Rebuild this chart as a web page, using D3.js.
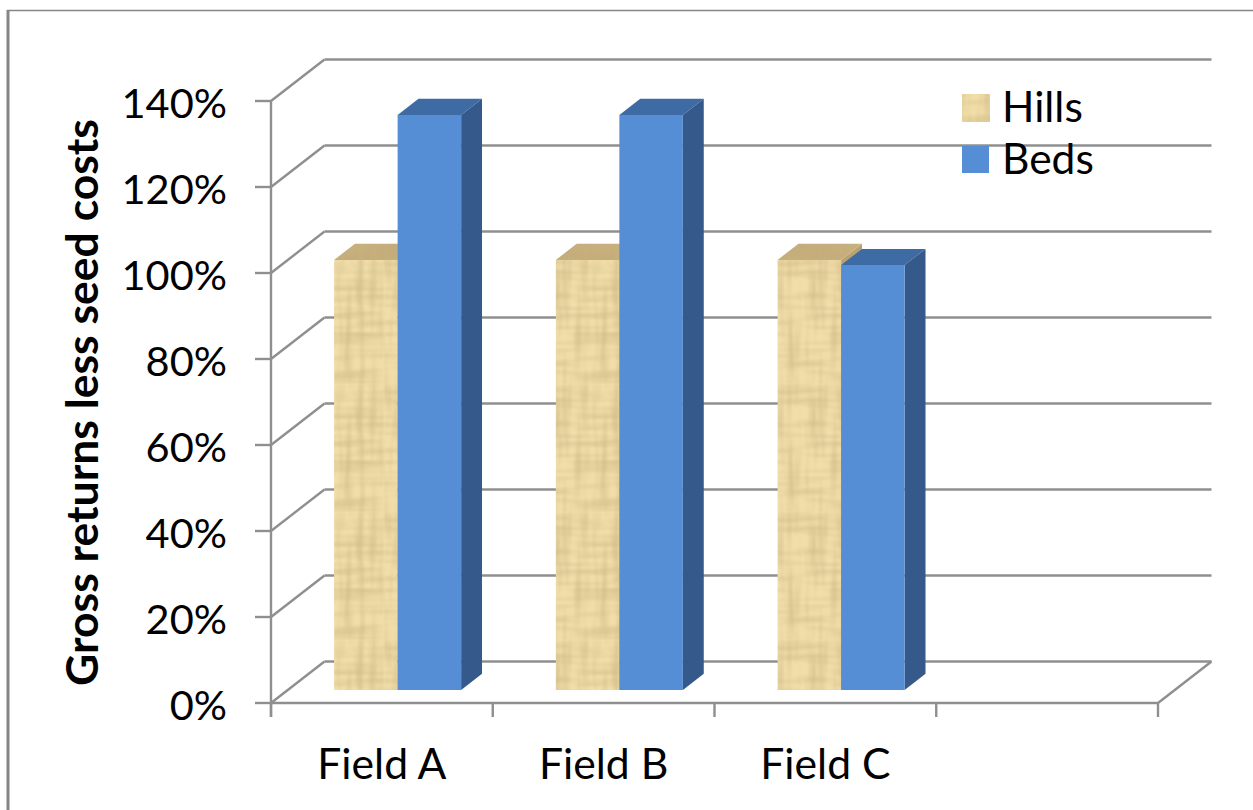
<!DOCTYPE html>
<html>
<head>
<meta charset="utf-8">
<script src="https://cdn.jsdelivr.net/npm/d3@7"></script>
<style>
html, body { margin: 0; padding: 0; background: #fff; }
svg { display: block; }
text { font-family: Lato, "Open Sans", sans-serif; fill: #000; }
</style>
</head>
<body>
<svg id="chart" width="1253" height="810"></svg>
<script>
// Gross returns relative to hills, by field
const categories = ["Field A", "Field B", "Field C", ""];
const seriesNames = ["Hills", "Beds"];
const hills = [1.00, 1.00, 1.00, null];
const beds = [1.337, 1.337, 0.988, null];
const yTicks = [0, 0.2, 0.4, 0.6, 0.8, 1.0, 1.2, 1.4];

const svg = d3.select("#chart");
const width = 1253, height = 810;

// Front plane of the 3D box and the shift from front to back wall
const x = d3.scaleBand().domain(categories).range([271, 1158]);
const y = d3.scaleLinear().domain([0, 1.4]).range([703, 101]);
const depthX = d3.scaleLinear().domain([0, 1]).range([0, 53.5]);
const depthY = d3.scaleLinear().domain([0, 1]).range([0, -41.5]);
const fmt = d3.format(".0%");

// Layout fractions of the bars inside each category band
const series = d3.scaleBand().domain(seriesNames)
  .range([0.2085, 0.7815]);
const barFront = 0.315, barBack = 0.705;

const colors = {
  Hills: { front: "url(#parchment)", top: "url(#parchmentTop)", side: "#b9a26e" },
  Beds: { front: "#558ed5", top: "#3f6ba4", side: "#34598a" }
};
const gridColor = "#8f8f8f";

// Woven parchment fill: one streak layer along each thread direction
const defs = svg.append("defs");
function weave(id, base, strength) {
  const size = 128;
  const p = defs.append("pattern").attr("id", id)
    .attr("patternUnits", "userSpaceOnUse")
    .attr("width", size).attr("height", size);
  p.append("rect").attr("width", size).attr("height", size).attr("fill", base);
  [["0.16 0.018", 7], ["0.018 0.16", 23]].forEach(([freq, seed], i) => {
    const fid = `${id}Thread${i}`;
    const f = defs.append("filter").attr("id", fid)
      .attr("x", 0).attr("y", 0).attr("width", 1).attr("height", 1);
    f.append("feTurbulence").attr("type", "fractalNoise")
      .attr("baseFrequency", freq).attr("numOctaves", 2)
      .attr("seed", seed).attr("stitchTiles", "stitch");
    f.append("feColorMatrix").attr("type", "matrix")
      .attr("values", `0 0 0 0 0.6  0 0 0 0 0.46  0 0 0 0 0.22  ${strength} 0 0 0 ${-strength * 0.42}`);
    f.append("feGaussianBlur").attr("stdDeviation", 0.8);
    p.append("rect").attr("width", size).attr("height", size)
      .attr("filter", `url(#${fid})`);
  });
}
weave("parchment", "#f1dea9", 1.3);
weave("parchmentTop", "#c4ad7a", 1.1);

const line = (x1, y1, x2, y2, w = 2.4, c = gridColor) =>
  svg.append("line").attr("x1", x1).attr("y1", y1).attr("x2", x2).attr("y2", y2)
    .attr("stroke", c).attr("stroke-width", w);

// Outer frame, open at the right and bottom edges
line(8, 10, 8, height, 3, "#868686");
line(7, 10.5, width, 10.5, 1.6, "#868686");

// Wall gridlines, floor and value ticks
const backX = x.range()[1] + depthX(1);
yTicks.forEach(t => {
  const py = y(t);
  const by = py + depthY(1);
  const lx = x.range()[0] + depthX(1);
  line(x.range()[0], py, lx, by);
  line(lx, by, backX, by);
  line(255, py, x.range()[0], py);
  svg.append("text").attr("x", 227).attr("y", py).attr("dy", "0.4em")
    .attr("text-anchor", "end").attr("font-size", 41.5).text(fmt(t));
});
line(x.range()[0], y(1.4), x.range()[0], 717);
line(x.range()[0], y(0), x.range()[1], y(0));
line(x.range()[1], y(0), backX, y(0) + depthY(1));

// Category ticks and labels
categories.forEach(c => line(x(c), y(0), x(c), 717));
line(x.range()[1], y(0), x.range()[1], 717);
categories.filter(Boolean).forEach(c => {
  svg.append("text").attr("x", x(c) + x.bandwidth() / 2).attr("y", 779)
    .attr("text-anchor", "middle").attr("font-size", 42.7).text(c);
});

// Point on a bar: band-relative x, value, depth fraction
const project = (c, frac, v, d) => [
  x(c) + frac * x.bandwidth() + depthX(d),
  y(v) + depthY(d)
];
const poly = (pts, fill) => svg.append("polygon")
  .attr("points", pts.map(p => p.join(",")).join(" "))
  .attr("fill", fill);

function barGeometry(c, name, v) {
  const a = series(name), b = a + series.bandwidth();
  return {
    front: [project(c, a, 0, barFront), project(c, b, 0, barFront), project(c, b, v, barFront), project(c, a, v, barFront)],
    top: [project(c, a, v, barFront), project(c, b, v, barFront), project(c, b, v, barBack), project(c, a, v, barBack)],
    side: [project(c, b, 0, barFront), project(c, b, 0, barBack), project(c, b, v, barBack), project(c, b, v, barFront)]
  };
}

// Paint order keeps the taller top visible when a neighbour is shorter
categories.forEach((c, i) => {
  if (hills[i] == null) return;
  const h = barGeometry(c, "Hills", hills[i]);
  const b = barGeometry(c, "Beds", beds[i]);
  poly(h.side, colors.Hills.side);
  poly(h.front, colors.Hills.front);
  poly(b.top, colors.Beds.top);
  poly(b.side, colors.Beds.side);
  poly(h.top, colors.Hills.top);
  poly(b.front, colors.Beds.front);
});

// Axis title
svg.append("text")
  .attr("transform", "translate(98,402.5) rotate(-90)")
  .attr("text-anchor", "middle").attr("font-size", 44.5).attr("font-weight", 700)
  .text("Gross returns less seed costs");

// Legend
seriesNames.forEach((name, i) => {
  const top = 94 + i * 52;
  svg.append("rect").attr("x", 962).attr("y", top)
    .attr("width", 28 - i).attr("height", 28 - i)
    .attr("fill", colors[name].front);
  svg.append("text").attr("x", 1002).attr("y", top + 27.7)
    .attr("font-size", 42.5).text(name);
});
</script>
</body>
</html>
